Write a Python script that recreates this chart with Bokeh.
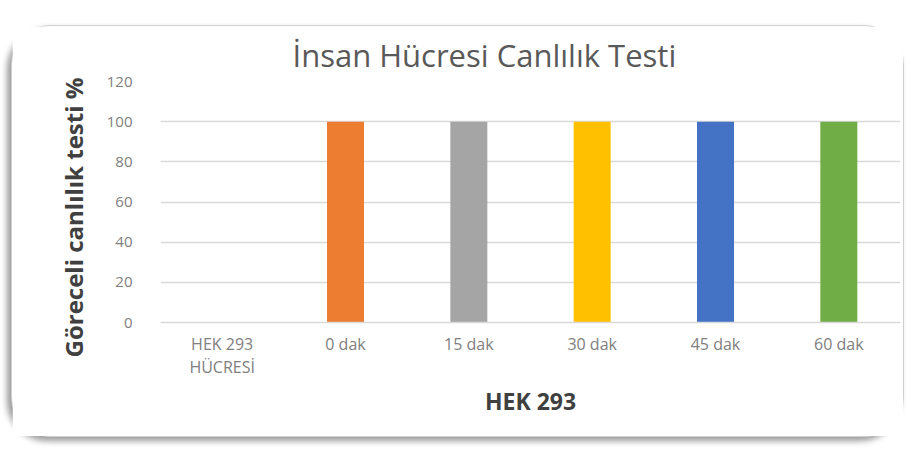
from bokeh.plotting import figure
from bokeh.models import Range1d, FixedTicker, Title
from bokeh.embed import file_html
from bokeh.resources import INLINE

categories = ["HEK 293\nHÜCRESİ", "0 dak", "15 dak", "30 dak", "45 dak", "60 dak"]
values = [0, 100, 100, 100, 100, 100]
colors = ["#A5A5A5", "#ED7D31", "#A5A5A5", "#FFC000", "#4472C4", "#70AD47"]
y_ticks = [0, 20, 40, 60, 80, 100, 120]
title_text = "İnsan Hücresi Canlılık Testi"
y_title = "Göreceli canlılık testi %"
x_title = "HEK 293"

FONT = "Open Sans"

p = figure(x_range=categories, y_range=Range1d(0, 120), width=893, height=412,
           output_backend="svg", toolbar_location=None,
           min_border_left=148, min_border_right=5, min_border_top=54, min_border_bottom=116,
           title=title_text)
p.styles = {"margin-top": "25px", "margin-left": "11px",
            "border": "1px solid #cfcfcf", "border-radius": "40px",
            "box-shadow": "-4px 4px 6px #9a9a9a", "background": "white"}

p.vbar(x=categories, top=values, width=0.3, fill_color=colors, line_color=None)

p.title.align = "left"
p.title.offset = 132
p.title.text_font = FONT
p.title.text_font_size = "31px"
p.title.text_font_style = "normal"
p.title.text_color = "#595959"
p.title.standoff = 11

p.outline_line_color = None
p.background_fill_color = "white"
p.border_fill_color = "white"
p.xgrid.grid_line_color = None
p.ygrid.grid_line_color = "#D9D9D9"
p.ygrid.grid_line_width = 1.5

p.yaxis.ticker = FixedTicker(ticks=y_ticks)
p.yaxis.axis_line_color = None
p.yaxis.major_tick_line_color = None
p.yaxis.minor_tick_line_color = None
p.yaxis.major_label_text_font = FONT
p.yaxis.major_label_text_font_size = "15px"
p.yaxis.major_label_text_color = "#808080"
p.yaxis.major_label_standoff = 22

# y-axis title as a side title, so it can sit lower than the frame centre like the reference
ytitle = Title(text=y_title, align="left", offset=-35, standoff=27,
               text_font=FONT, text_font_size="24px", text_font_style="bold",
               text_color="#404040")
p.add_layout(ytitle, "left")

p.xaxis.axis_line_color = "#D9D9D9"
p.xaxis.axis_line_width = 1.5
p.xaxis.major_tick_line_color = None
p.xaxis.minor_tick_line_color = None
p.xaxis.major_label_text_font = FONT
p.xaxis.major_label_text_font_size = "16px"
p.xaxis.major_label_text_color = "#808080"
p.xaxis.major_label_text_line_height = 1.05
p.xaxis.major_label_standoff = 4
p.xaxis.axis_label = x_title
p.xaxis.axis_label_text_font = FONT
p.xaxis.axis_label_text_font_size = "23px"
p.xaxis.axis_label_text_font_style = "bold"
p.xaxis.axis_label_text_color = "#404040"
p.xaxis.axis_label_standoff = 4

open("out.html", "w").write(file_html(p, INLINE))
